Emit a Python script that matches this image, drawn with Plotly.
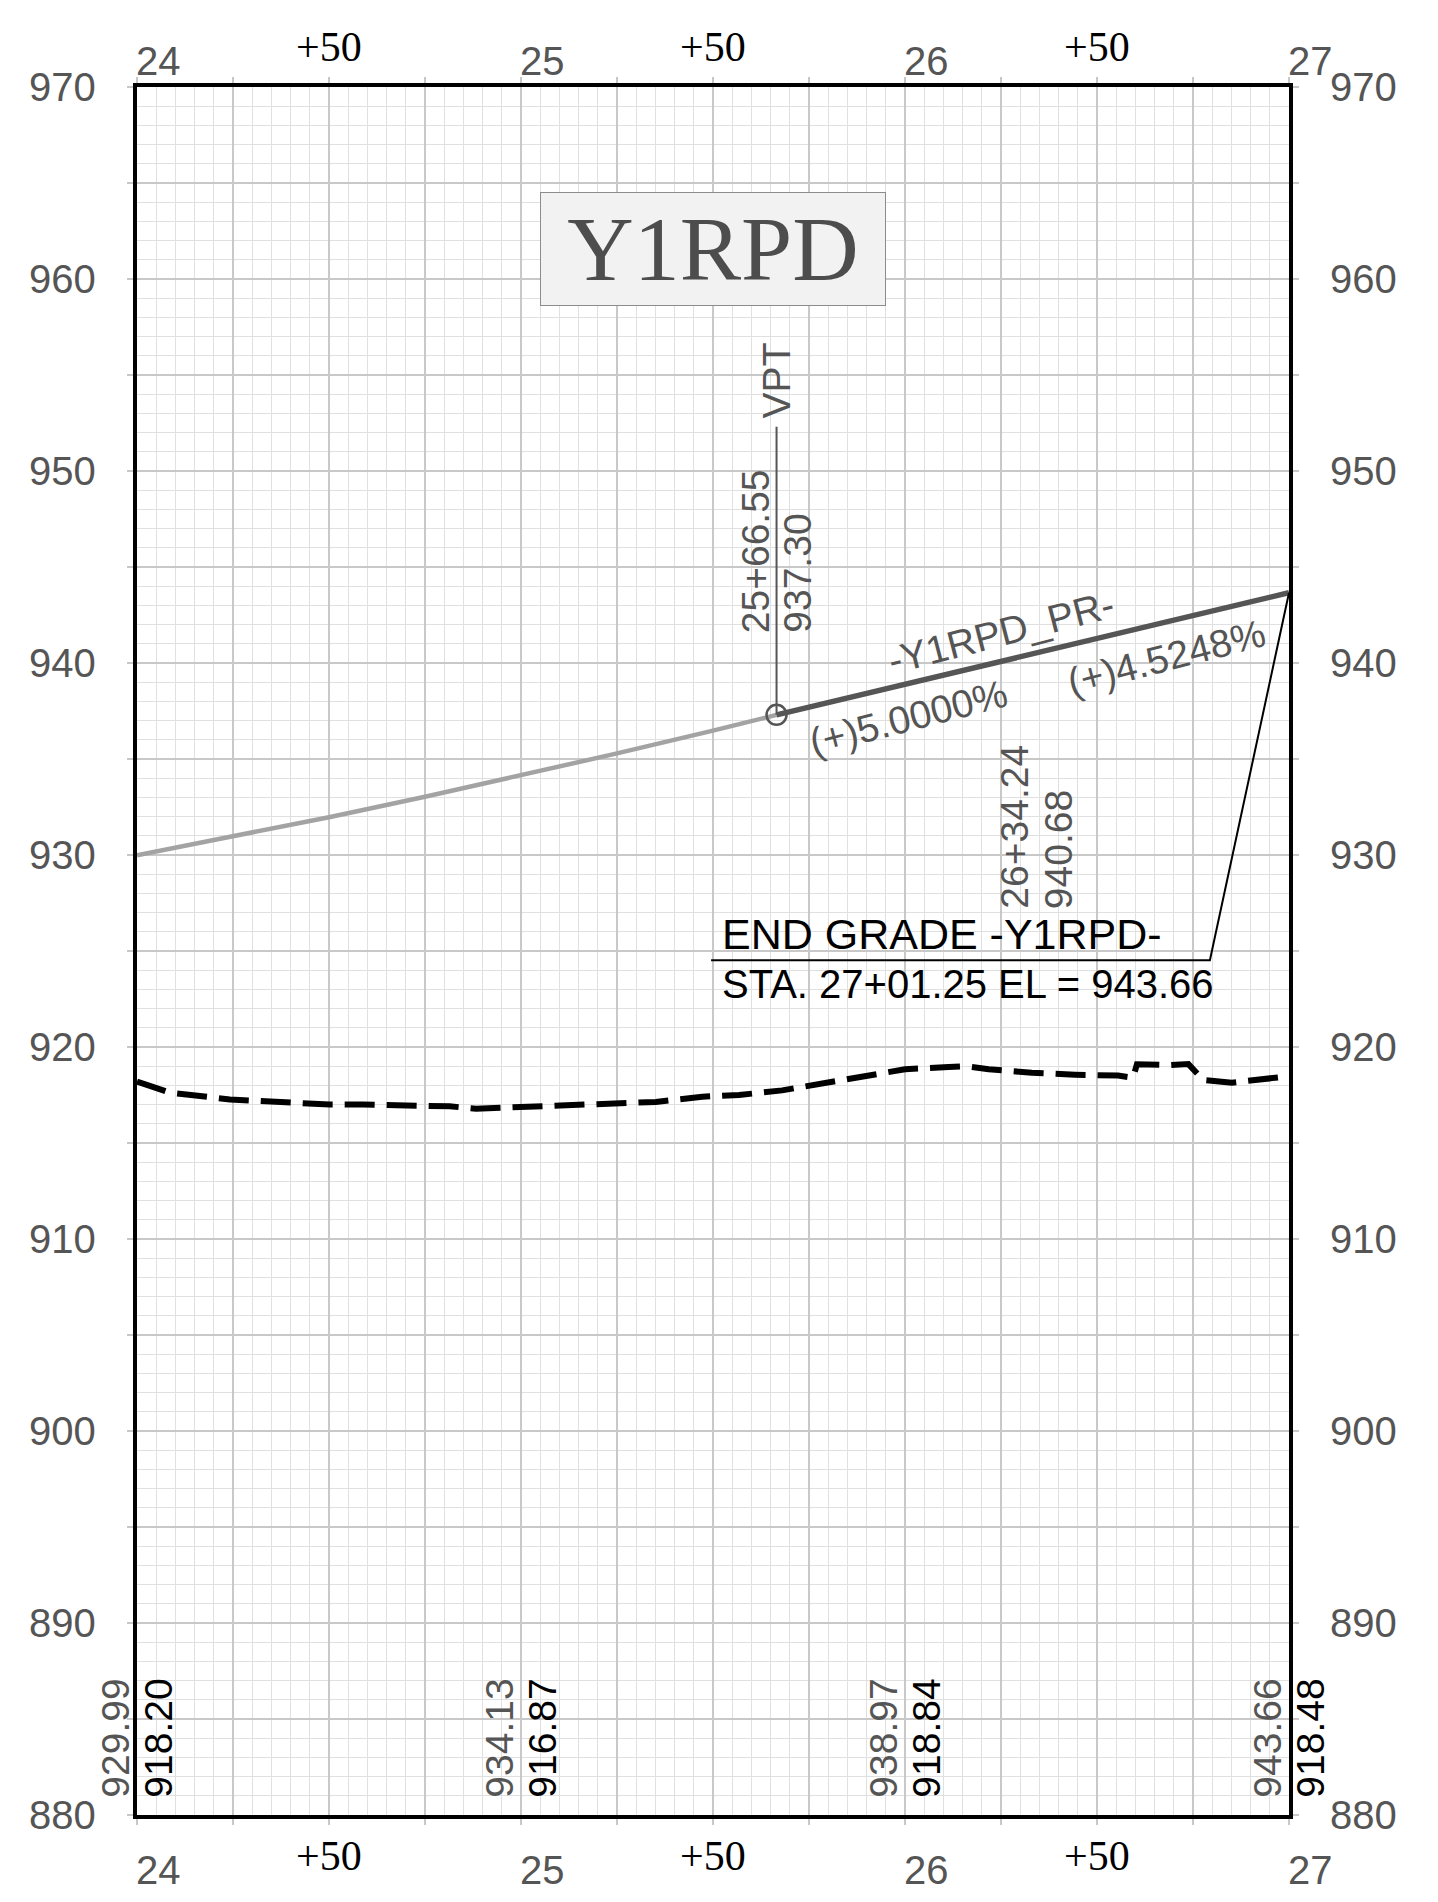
import plotly.graph_objects as go

# ---------------------------------------------------------------------------
# Profile data: stations in ft (2400 = 24+00), elevations in ft
# ---------------------------------------------------------------------------
STA_RANGE = [2400, 2700]
EL_RANGE = [880, 970]

# axis labels
sta_full = [2400, 2500, 2600, 2700]
sta_full_text = ["24", "25", "26", "27"]
sta_half = [2450, 2550, 2650]
sta_half_text = ["+50", "+50", "+50"]
el_labels = [880, 890, 900, 910, 920, 930, 940, 950, 960, 970]

# proposed grade, vertical curve ending at VPT
curve_sta = [2400, 2425, 2450, 2475, 2500, 2525, 2550, 2566.55]
curve_el = [929.99, 930.96, 931.97, 933.03, 934.13, 935.29, 936.48, 937.30]

# proposed grade, tangent after VPT
tangent_sta = [2566.55, 2700]
tangent_el = [937.30, 943.66]

# existing ground (dashed)
ground_sta = [2400, 2408.6, 2424.2, 2436.3, 2450.2, 2458.8, 2470, 2481.4, 2488.3,
              2500, 2514.7, 2525.6, 2535.1, 2547.2, 2556.8, 2568, 2577.6, 2589.7,
              2600, 2611.4, 2615.7, 2621.8, 2633, 2644.3, 2655.5, 2659.4, 2660.4,
              2668.6, 2673.8, 2677.7, 2685.1, 2700]
ground_el = [918.20, 917.62, 917.27, 917.14, 917.00, 917.00, 916.96, 916.91, 916.79,
             916.87, 916.93, 917.00, 917.14, 917.41, 917.50, 917.74, 918.09, 918.49,
             918.84, 918.96, 919.00, 918.84, 918.66, 918.56, 918.51, 918.40, 919.10,
             919.06, 919.11, 918.28, 918.14, 918.48]

# elevations printed along the bottom at full stations
label_sta = [2400, 2500, 2600, 2700]
label_grade = ["929.99", "934.13", "938.97", "943.66"]
label_ground = ["918.20", "916.87", "918.84", "918.48"]
label_base_el = 880.8

# VPT callout
vpt_sta = 2566.55
vpt_el = 937.30
vpt_stem_top = 952.3
vpt_text_el = 941.45

# high point callout
hp_sta = 2634.24
hp_text_el = 927.1

# end grade leader
end_leader_sta = [2549.5, 2679.4, 2700]
end_leader_el = [924.52, 924.52, 943.66]

GREY_TXT = "#555555"
SANS = "Liberation Sans, Arial, sans-serif"
SERIF = "Liberation Serif, Times New Roman, serif"

fig = go.Figure()

fig.add_trace(go.Scatter(x=curve_sta, y=curve_el, mode="lines",
                         line=dict(color="#a3a3a3", width=4.5), hoverinfo="skip"))
fig.add_trace(go.Scatter(x=tangent_sta, y=tangent_el, mode="lines",
                         line=dict(color="#555555", width=5.5), hoverinfo="skip"))
fig.add_trace(go.Scatter(x=ground_sta, y=ground_el, mode="lines",
                         line=dict(color="black", width=6, dash="30px,12px"),
                         hoverinfo="skip"))
fig.add_trace(go.Scatter(x=[vpt_sta, vpt_sta], y=[vpt_el, vpt_stem_top], mode="lines",
                         line=dict(color="#555555", width=2), hoverinfo="skip"))
fig.add_trace(go.Scatter(x=[vpt_sta], y=[vpt_el], mode="markers",
                         marker=dict(symbol="circle-open", size=20, color="#555555",
                                     line=dict(color="#555555", width=2.5)),
                         hoverinfo="skip"))
fig.add_trace(go.Scatter(x=end_leader_sta, y=end_leader_el, mode="lines",
                         line=dict(color="black", width=2), hoverinfo="skip"))

ann = []

# y labels, both sides
for v in el_labels:
    ann.append(dict(x=0, xref="paper", y=v, yref="y", text=str(v), showarrow=False,
                    xanchor="right", yanchor="middle", xshift=-39,
                    font=dict(family=SANS, size=40, color=GREY_TXT)))
    ann.append(dict(x=1, xref="paper", y=v, yref="y", text=str(v), showarrow=False,
                    xanchor="left", yanchor="middle", xshift=39,
                    font=dict(family=SANS, size=40, color=GREY_TXT)))

# station labels, top and bottom
for s, t in zip(sta_full, sta_full_text):
    ann.append(dict(x=s, xref="x", y=1, yref="paper", text=t, showarrow=False,
                    xanchor="left", yanchor="middle", xshift=-3, yshift=26,
                    font=dict(family=SANS, size=40, color=GREY_TXT)))
    ann.append(dict(x=s, xref="x", y=0, yref="paper", text=t, showarrow=False,
                    xanchor="left", yanchor="middle", xshift=-3, yshift=-55,
                    font=dict(family=SANS, size=40, color=GREY_TXT)))
for s, t in zip(sta_half, sta_half_text):
    ann.append(dict(x=s, xref="x", y=1, yref="paper", text=t, showarrow=False,
                    xanchor="center", yanchor="middle", yshift=40,
                    font=dict(family=SERIF, size=42, color="black")))
    ann.append(dict(x=s, xref="x", y=0, yref="paper", text=t, showarrow=False,
                    xanchor="center", yanchor="middle", yshift=-41,
                    font=dict(family=SERIF, size=42, color="black")))

# bottom elevation labels
for s, g, e in zip(label_sta, label_grade, label_ground):
    ann.append(dict(x=s, y=label_base_el, text=g, showarrow=False, textangle=-90,
                    xanchor="right", yanchor="bottom", xshift=2,
                    font=dict(family=SANS, size=39, color=GREY_TXT)))
    ann.append(dict(x=s, y=label_base_el, text=e, showarrow=False, textangle=-90,
                    xanchor="left", yanchor="bottom", xshift=-2,
                    font=dict(family=SANS, size=39, color="black")))

# title box
ann.append(dict(x=2550, y=961.55, text="Y1RPD", showarrow=False,
                xanchor="center", yanchor="middle", width=342, height=110,
                bgcolor="#f2f2f2", bordercolor="#8c8c8c", borderwidth=1,
                font=dict(family=SERIF, size=92, color="#4d4d4d")))

# VPT callout
ann.append(dict(x=vpt_sta, y=vpt_stem_top, text="VPT", showarrow=False, textangle=-90,
                xanchor="center", yanchor="bottom", yshift=6,
                font=dict(family=SANS, size=39, color=GREY_TXT)))
ann.append(dict(x=vpt_sta, y=vpt_text_el, text="25+66.55", showarrow=False, textangle=-90,
                xanchor="right", yanchor="bottom", xshift=2,
                font=dict(family=SANS, size=39, color=GREY_TXT)))
ann.append(dict(x=vpt_sta, y=vpt_text_el, text="937.30", showarrow=False, textangle=-90,
                xanchor="left", yanchor="bottom", xshift=-2,
                font=dict(family=SANS, size=39, color=GREY_TXT)))

# grade labels along the tangent
ann.append(dict(x=2625, y=941.6, text="-Y1RPD_PR-", showarrow=False, textangle=-14.5,
                font=dict(family=SANS, size=39, color=GREY_TXT)))
ann.append(dict(x=2601, y=937.17, text="(+)5.0000%", showarrow=False, textangle=-14.5,
                font=dict(family=SANS, size=39, color=GREY_TXT)))
ann.append(dict(x=2668, y=940.3, text="(+)4.5248%", showarrow=False, textangle=-14.5,
                font=dict(family=SANS, size=39, color=GREY_TXT)))

# high point label
ann.append(dict(x=hp_sta, y=hp_text_el, text="26+34.24", showarrow=False, textangle=-90,
                xanchor="right", yanchor="bottom", xshift=2,
                font=dict(family=SANS, size=39, color=GREY_TXT)))
ann.append(dict(x=hp_sta, y=hp_text_el, text="940.68", showarrow=False, textangle=-90,
                xanchor="left", yanchor="bottom", xshift=-2,
                font=dict(family=SANS, size=39, color=GREY_TXT)))

# end grade text
ann.append(dict(x=2551.8, y=end_leader_el[0], text="END GRADE -Y1RPD-", showarrow=False,
                xanchor="left", yanchor="bottom", yshift=0,
                font=dict(family=SANS, size=43, color="black")))
ann.append(dict(x=2551.8, y=end_leader_el[0], text="STA. 27+01.25 EL = 943.66",
                showarrow=False, xanchor="left", yanchor="top", yshift=0,
                font=dict(family=SANS, size=40, color="black")))

# page body has an 8px margin, so the figure is sized to fit inside the window
fig.update_layout(
    width=1422, height=1886,
    margin=dict(l=129, r=141, t=79, b=79),
    paper_bgcolor="white", plot_bgcolor="white",
    showlegend=False,
    annotations=ann,
    xaxis=dict(range=STA_RANGE, tick0=2400, dtick=25, showgrid=True,
               gridcolor="#c8c8c8", gridwidth=2, zeroline=False,
               ticks="outside", ticklen=6, tickwidth=2, tickcolor="#c8c8c8",
               showticklabels=False, showline=True, linecolor="black", linewidth=4,
               mirror="ticks",
               minor=dict(tick0=2400, dtick=5, showgrid=True, gridcolor="#e0e0e0",
                          gridwidth=1)),
    yaxis=dict(range=EL_RANGE, tick0=880, dtick=5, showgrid=True,
               gridcolor="#c8c8c8", gridwidth=2, zeroline=False,
               ticks="outside", ticklen=6, tickwidth=2, tickcolor="#c8c8c8",
               showticklabels=False, showline=True, linecolor="black", linewidth=4,
               mirror="ticks",
               minor=dict(tick0=880, dtick=1, showgrid=True, gridcolor="#e0e0e0",
                          gridwidth=1)),
)

fig.write_html("out.html")
